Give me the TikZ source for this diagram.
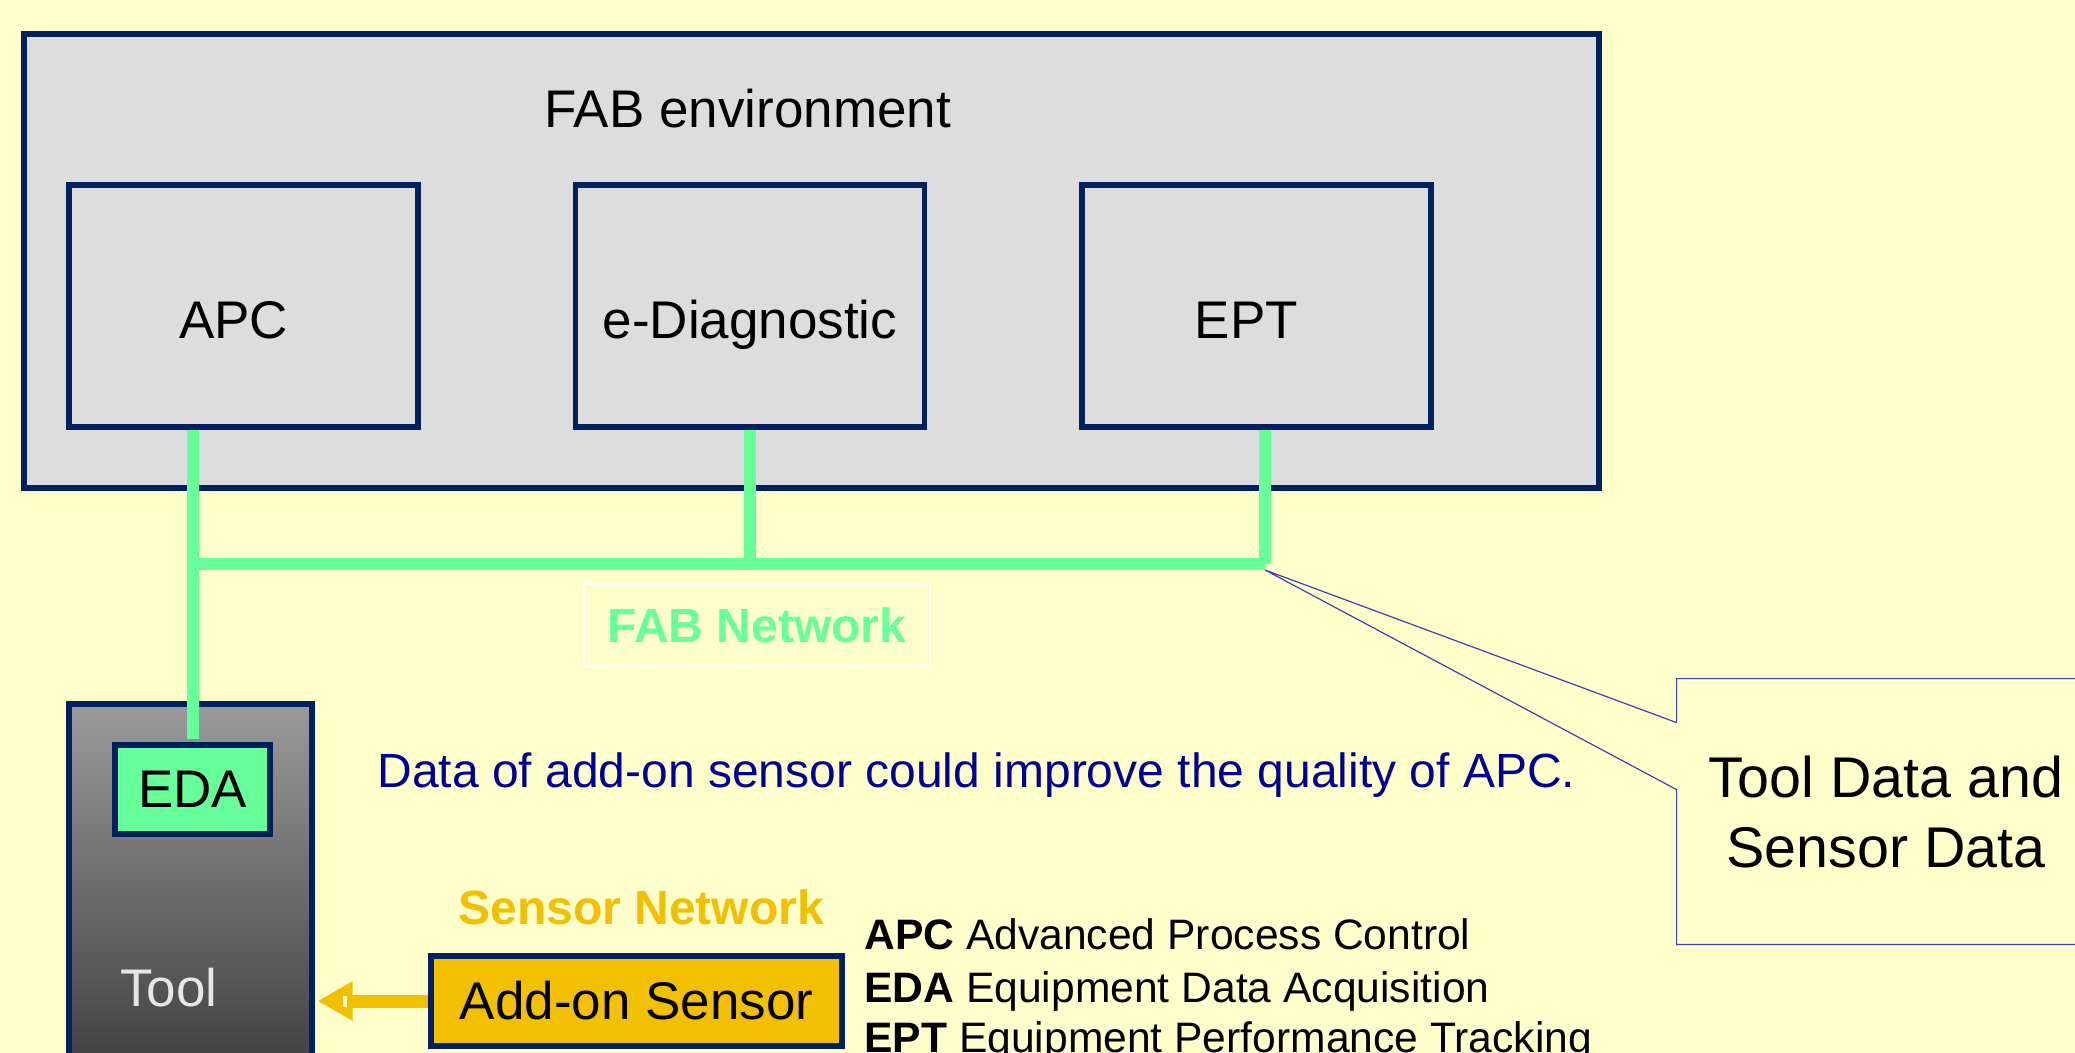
\documentclass[tikz,border=0pt]{standalone}
\usepackage{fontspec}
\setmainfont{Liberation Sans}
\usetikzlibrary{arrows.meta,calc}

\definecolor{bgyellow}{HTML}{FFFFCC}
\definecolor{fabgray}{HTML}{DDDDDD}
\definecolor{navy}{HTML}{002060}
\definecolor{netgreen}{HTML}{66FF99}
\definecolor{gold}{HTML}{F2C000}
\definecolor{textblue}{HTML}{000099}
\definecolor{callblue}{HTML}{4040B0}
\definecolor{toollight}{HTML}{9A9A9A}
\definecolor{tooldark}{HTML}{424242}
\definecolor{toolwhite}{HTML}{E6E6E6}

\begin{document}
\begin{tikzpicture}[x=0.5pt,y=-0.5pt,
  frame/.style={draw=navy, line width=2.8pt, inner sep=0pt},
  unitbox/.style={frame, fill=fabgray, minimum width=174.5pt, minimum height=121pt,
    font=\fontsize{26.5}{32}\selectfont, text height=33pt, text depth=0pt},
  bigtext/.style={font=\fontsize{26.5}{32}\selectfont, inner sep=0pt},
  freetext/.style={inner sep=0pt, anchor=base west},
  netline/.style={draw=netgreen, line width=6pt}
]
\useasboundingbox (0,0) rectangle (2075,1053);
\fill[bgyellow] (0,0) rectangle (2075,1053);
\clip (0,0) rectangle (2075,1053);

% FAB environment with its three units
\node[frame, fill=fabgray, minimum width=787.5pt, minimum height=227pt] (fab) at (811.5,261) {};
\node[bigtext, anchor=base west] (fabtitle) at (544,128) {FAB environment};
\node[unitbox] (apc)  at (243.5,306) {APC\kern10pt};
\node[unitbox] (diag) at (750,306)   {e-Diagnostic};
\node[unitbox] (ept)  at (1256.5,306) {EPT\kern10pt};

% tool with its data acquisition unit
\node[frame, top color=toollight, bottom color=tooldark, minimum width=121.5pt, minimum height=178pt] (tool) at (190.5,882) {};
\node[bigtext, anchor=base west, text=toolwhite] (tooltext) at (120,1006) {Tool};
\node[frame, fill=netgreen, minimum width=77.5pt, minimum height=44.5pt, bigtext] (eda) at (192.5,789.5) {EDA};

% FAB network
\coordinate (busy) at (0,564);
\coordinate (eptdrop) at ([xshift=4.3pt]ept.south);
\draw[netline, shorten >=1.4pt] (eda.north |- apc.south) -- (eda.north);
\draw[netline] (diag.south) -- (diag.south |- busy);
\draw[netline] (eptdrop) -- (eptdrop |- busy);
\draw[netline] (eda.north |- busy) -- (eptdrop |- busy);
\node[draw=white, line width=1.3pt, minimum width=173pt, minimum height=41.5pt, inner sep=0pt,
  text=netgreen, font=\bfseries\fontsize{24}{28}\selectfont] (fabnet) at (757,625.5) {FAB Network};

% callout on the network
\node[font=\fontsize{28.7}{35}\selectfont, align=center, inner sep=0pt,
  minimum width=209pt, minimum height=132.5pt] (callout) at (1886,811.5) {Tool Data and\\Sensor Data};
\coordinate (tip) at (1265,570);
\draw[callblue, line width=0.6pt] (callout.north east) -- (callout.north west)
  -- ($(callout.north west)+(0,44)$) -- (tip) -- ($(callout.north west)+(0,111)$)
  -- (callout.south west) -- (callout.south east);

% remark
\node[freetext, text=textblue, font=\fontsize{24}{28}\selectfont] (remark) at (377,787)
  {Data of add-on sensor could improve the quality of APC.};

% sensor network
\node[freetext, text=gold, font=\bfseries\fontsize{24}{28}\selectfont] (sensnet) at (458,924) {Sensor Network};
\node[frame, fill=gold, minimum width=205.5pt, minimum height=45pt, bigtext] (addon) at (636.5,1001) {Add-on Sensor};
\draw[gold, line width=6.5pt, -{Triangle[length=17.5pt,width=18.5pt]}, shorten >=1.4pt]
  (addon.west) -- (tool.east |- addon.west);
\fill[bgyellow] (343,995.5) rectangle (347,1007);

% abbreviations
\node[freetext, font=\fontsize{21.3}{25}\selectfont] (legapc) at (864,949) {\textbf{APC} Advanced Process Control};
\node[freetext, font=\fontsize{21.3}{25}\selectfont] (legeda) at (864,1002) {\textbf{EDA} Equipment Data Acquisition};
\node[freetext, font=\fontsize{21.3}{25}\selectfont] (legept) at (864,1052) {\textbf{EPT} Equipment Performance Tracking};
\end{tikzpicture}
\end{document}
